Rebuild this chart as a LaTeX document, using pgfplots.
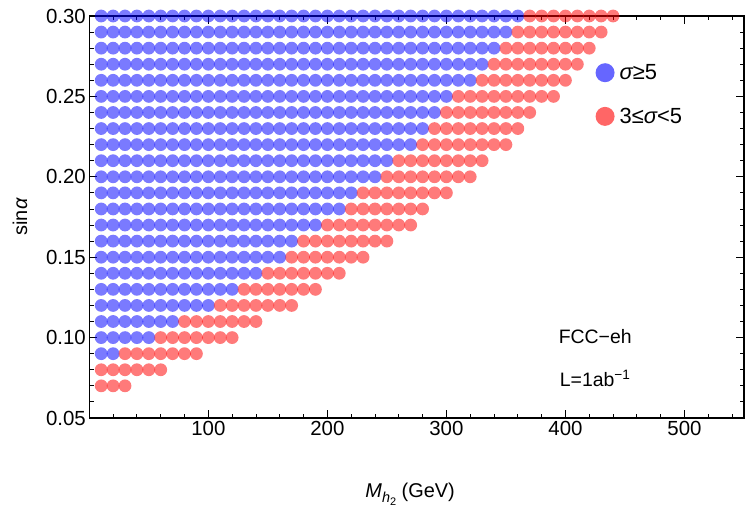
\documentclass[border=0pt]{standalone}
\usepackage{fontspec}
\setmainfont{Liberation Sans}
\usepackage{pgfplots}
\pgfplotsset{compat=1.18}

\definecolor{sigfive}{RGB}{0,0,255}
\definecolor{sigthree}{RGB}{255,0,0}

\begin{document}
\begin{tikzpicture}
\begin{axis}[
  at={(0,0)}, anchor=south west,
  scale only axis, width=654.7bp, height=402bp,
  xmin=0, xmax=550, ymin=0.05, ymax=0.30,
  clip=false,
  axis line style={line width=1.2bp},
  every tick/.style={black, line width=0.9bp},
  major tick length=8bp, minor tick length=4.5bp,
  xtick={100,200,...,500},
  minor xtick={20,40,...,540},
  ytick={0.05,0.10,0.15,0.20,0.25,0.30},
  minor ytick={0.06,0.07,0.08,0.09,0.11,0.12,0.13,0.14,0.16,0.17,0.18,0.19,0.21,0.22,0.23,0.24,0.26,0.27,0.28,0.29},
  yticklabel style={/pgf/number format/fixed, /pgf/number format/fixed zerofill, /pgf/number format/precision=2},
  /pgf/number format/assume math mode=true,
  tick label style={font=\fontsize{20.5}{23}\selectfont},
  xlabel={{\itshape M}\raisebox{-0.45ex}{\fontsize{14.5}{16}\selectfont\itshape h\raisebox{-0.35ex}{\fontsize{11}{12}\selectfont\upshape 2}}\ (GeV)},
  ylabel={sin{\itshape α}},
  label style={font=\fontsize{20}{23}\selectfont},
  xlabel style={at={(axis description cs:0.49,-0.19)}, anchor=center},
  ylabel style={at={(axis description cs:-0.106,0.5)}, anchor=center},
  legend style={at={(axis description cs:0.773,0.885)}, anchor=north west, draw=none, fill=none,
    font=\fontsize{22}{26}\selectfont, row sep=23bp, inner sep=0pt, nodes={inner xsep=5bp}},
  legend cell align=left,
  dot/.style={only marks, color=#1, mark=*, mark size=6.4bp,
    mark options={draw=#1, draw opacity=0, fill=#1, fill opacity=0.52}},
]

% 5 sigma discovery region
\addplot[dot=sigfive, forget plot] coordinates {
(10,.09) (20,.09)
(10,.10) (20,.10) (30,.10) (40,.10) (50,.10)
(10,.11) (20,.11) (30,.11) (40,.11) (50,.11) (60,.11) (70,.11)
(10,.12) (20,.12) (30,.12) (40,.12) (50,.12) (60,.12) (70,.12) (80,.12) (90,.12) (100,.12)
(10,.13) (20,.13) (30,.13) (40,.13) (50,.13) (60,.13) (70,.13) (80,.13) (90,.13) (100,.13) (110,.13) (120,.13)
(10,.14) (20,.14) (30,.14) (40,.14) (50,.14) (60,.14) (70,.14) (80,.14) (90,.14) (100,.14) (110,.14) (120,.14) (130,.14) (140,.14)
(10,.15) (20,.15) (30,.15) (40,.15) (50,.15) (60,.15) (70,.15) (80,.15) (90,.15) (100,.15) (110,.15) (120,.15) (130,.15) (140,.15) (150,.15) (160,.15)
(10,.16) (20,.16) (30,.16) (40,.16) (50,.16) (60,.16) (70,.16) (80,.16) (90,.16) (100,.16) (110,.16) (120,.16) (130,.16) (140,.16) (150,.16) (160,.16) (170,.16)
(10,.17) (20,.17) (30,.17) (40,.17) (50,.17) (60,.17) (70,.17) (80,.17) (90,.17) (100,.17) (110,.17) (120,.17) (130,.17) (140,.17) (150,.17) (160,.17) (170,.17) (180,.17) (190,.17)
(10,.18) (20,.18) (30,.18) (40,.18) (50,.18) (60,.18) (70,.18) (80,.18) (90,.18) (100,.18) (110,.18) (120,.18) (130,.18) (140,.18) (150,.18) (160,.18) (170,.18) (180,.18) (190,.18) (200,.18) (210,.18)
(10,.19) (20,.19) (30,.19) (40,.19) (50,.19) (60,.19) (70,.19) (80,.19) (90,.19) (100,.19) (110,.19) (120,.19) (130,.19) (140,.19) (150,.19) (160,.19) (170,.19) (180,.19) (190,.19) (200,.19) (210,.19) (220,.19)
(10,.20) (20,.20) (30,.20) (40,.20) (50,.20) (60,.20) (70,.20) (80,.20) (90,.20) (100,.20) (110,.20) (120,.20) (130,.20) (140,.20) (150,.20) (160,.20) (170,.20) (180,.20) (190,.20) (200,.20) (210,.20) (220,.20) (230,.20) (240,.20)
(10,.21) (20,.21) (30,.21) (40,.21) (50,.21) (60,.21) (70,.21) (80,.21) (90,.21) (100,.21) (110,.21) (120,.21) (130,.21) (140,.21) (150,.21) (160,.21) (170,.21) (180,.21) (190,.21) (200,.21) (210,.21) (220,.21) (230,.21) (240,.21) (250,.21)
(10,.22) (20,.22) (30,.22) (40,.22) (50,.22) (60,.22) (70,.22) (80,.22) (90,.22) (100,.22) (110,.22) (120,.22) (130,.22) (140,.22) (150,.22) (160,.22) (170,.22) (180,.22) (190,.22) (200,.22) (210,.22) (220,.22) (230,.22) (240,.22) (250,.22) (260,.22) (270,.22)
(10,.23) (20,.23) (30,.23) (40,.23) (50,.23) (60,.23) (70,.23) (80,.23) (90,.23) (100,.23) (110,.23) (120,.23) (130,.23) (140,.23) (150,.23) (160,.23) (170,.23) (180,.23) (190,.23) (200,.23) (210,.23) (220,.23) (230,.23) (240,.23) (250,.23) (260,.23) (270,.23) (280,.23)
(10,.24) (20,.24) (30,.24) (40,.24) (50,.24) (60,.24) (70,.24) (80,.24) (90,.24) (100,.24) (110,.24) (120,.24) (130,.24) (140,.24) (150,.24) (160,.24) (170,.24) (180,.24) (190,.24) (200,.24) (210,.24) (220,.24) (230,.24) (240,.24) (250,.24) (260,.24) (270,.24) (280,.24) (290,.24)
(10,.25) (20,.25) (30,.25) (40,.25) (50,.25) (60,.25) (70,.25) (80,.25) (90,.25) (100,.25) (110,.25) (120,.25) (130,.25) (140,.25) (150,.25) (160,.25) (170,.25) (180,.25) (190,.25) (200,.25) (210,.25) (220,.25) (230,.25) (240,.25) (250,.25) (260,.25) (270,.25) (280,.25) (290,.25) (300,.25)
(10,.26) (20,.26) (30,.26) (40,.26) (50,.26) (60,.26) (70,.26) (80,.26) (90,.26) (100,.26) (110,.26) (120,.26) (130,.26) (140,.26) (150,.26) (160,.26) (170,.26) (180,.26) (190,.26) (200,.26) (210,.26) (220,.26) (230,.26) (240,.26) (250,.26) (260,.26) (270,.26) (280,.26) (290,.26) (300,.26) (310,.26) (320,.26)
(10,.27) (20,.27) (30,.27) (40,.27) (50,.27) (60,.27) (70,.27) (80,.27) (90,.27) (100,.27) (110,.27) (120,.27) (130,.27) (140,.27) (150,.27) (160,.27) (170,.27) (180,.27) (190,.27) (200,.27) (210,.27) (220,.27) (230,.27) (240,.27) (250,.27) (260,.27) (270,.27) (280,.27) (290,.27) (300,.27) (310,.27) (320,.27) (330,.27)
(10,.28) (20,.28) (30,.28) (40,.28) (50,.28) (60,.28) (70,.28) (80,.28) (90,.28) (100,.28) (110,.28) (120,.28) (130,.28) (140,.28) (150,.28) (160,.28) (170,.28) (180,.28) (190,.28) (200,.28) (210,.28) (220,.28) (230,.28) (240,.28) (250,.28) (260,.28) (270,.28) (280,.28) (290,.28) (300,.28) (310,.28) (320,.28) (330,.28) (340,.28)
(10,.29) (20,.29) (30,.29) (40,.29) (50,.29) (60,.29) (70,.29) (80,.29) (90,.29) (100,.29) (110,.29) (120,.29) (130,.29) (140,.29) (150,.29) (160,.29) (170,.29) (180,.29) (190,.29) (200,.29) (210,.29) (220,.29) (230,.29) (240,.29) (250,.29) (260,.29) (270,.29) (280,.29) (290,.29) (300,.29) (310,.29) (320,.29) (330,.29) (340,.29) (350,.29)
(10,.30) (20,.30) (30,.30) (40,.30) (50,.30) (60,.30) (70,.30) (80,.30) (90,.30) (100,.30) (110,.30) (120,.30) (130,.30) (140,.30) (150,.30) (160,.30) (170,.30) (180,.30) (190,.30) (200,.30) (210,.30) (220,.30) (230,.30) (240,.30) (250,.30) (260,.30) (270,.30) (280,.30) (290,.30) (300,.30) (310,.30) (320,.30) (330,.30) (340,.30) (350,.30) (360,.30)
};

% 3 to 5 sigma evidence region
\addplot[dot=sigthree, forget plot] coordinates {
(10,.07) (20,.07) (30,.07)
(10,.08) (20,.08) (30,.08) (40,.08) (50,.08) (60,.08)
(30,.09) (40,.09) (50,.09) (60,.09) (70,.09) (80,.09) (90,.09)
(60,.10) (70,.10) (80,.10) (90,.10) (100,.10) (110,.10) (120,.10)
(80,.11) (90,.11) (100,.11) (110,.11) (120,.11) (130,.11) (140,.11)
(110,.12) (120,.12) (130,.12) (140,.12) (150,.12) (160,.12) (170,.12)
(130,.13) (140,.13) (150,.13) (160,.13) (170,.13) (180,.13) (190,.13)
(150,.14) (160,.14) (170,.14) (180,.14) (190,.14) (200,.14) (210,.14)
(170,.15) (180,.15) (190,.15) (200,.15) (210,.15) (220,.15) (230,.15)
(180,.16) (190,.16) (200,.16) (210,.16) (220,.16) (230,.16) (240,.16) (250,.16)
(200,.17) (210,.17) (220,.17) (230,.17) (240,.17) (250,.17) (260,.17) (270,.17)
(220,.18) (230,.18) (240,.18) (250,.18) (260,.18) (270,.18) (280,.18)
(230,.19) (240,.19) (250,.19) (260,.19) (270,.19) (280,.19) (290,.19) (300,.19)
(250,.20) (260,.20) (270,.20) (280,.20) (290,.20) (300,.20) (310,.20) (320,.20)
(260,.21) (270,.21) (280,.21) (290,.21) (300,.21) (310,.21) (320,.21) (330,.21)
(280,.22) (290,.22) (300,.22) (310,.22) (320,.22) (330,.22) (340,.22) (350,.22)
(290,.23) (300,.23) (310,.23) (320,.23) (330,.23) (340,.23) (350,.23) (360,.23)
(300,.24) (310,.24) (320,.24) (330,.24) (340,.24) (350,.24) (360,.24) (370,.24)
(310,.25) (320,.25) (330,.25) (340,.25) (350,.25) (360,.25) (370,.25) (380,.25) (390,.25)
(330,.26) (340,.26) (350,.26) (360,.26) (370,.26) (380,.26) (390,.26) (400,.26)
(340,.27) (350,.27) (360,.27) (370,.27) (380,.27) (390,.27) (400,.27) (410,.27)
(350,.28) (360,.28) (370,.28) (380,.28) (390,.28) (400,.28) (410,.28) (420,.28)
(360,.29) (370,.29) (380,.29) (390,.29) (400,.29) (410,.29) (420,.29) (430,.29)
(370,.30) (380,.30) (390,.30) (400,.30) (410,.30) (420,.30) (430,.30) (440,.30)
};

\addlegendimage{only marks, color=sigfive, mark=*, mark size=9.5bp, mark options={draw=sigfive, draw opacity=0, fill=sigfive, fill opacity=0.6}}
\addlegendentry{{\itshape σ}≥5}
\addlegendimage{only marks, color=sigthree, mark=*, mark size=9.5bp, mark options={draw=sigthree, draw opacity=0, fill=sigthree, fill opacity=0.6}}
\addlegendentry{3≤{\itshape σ}<5}

\node[font=\fontsize{19.5}{22}\selectfont] at (axis cs:425,0.1005) {FCC−eh};
\node[font=\fontsize{19.5}{22}\selectfont] at (axis cs:425,0.0745) {L=1ab\textsuperscript{−1}};
\end{axis}
\pgfresetboundingbox
\path[use as bounding box] (-89.3bp,-97bp) rectangle (660.7bp,418bp);
\end{tikzpicture}
\end{document}
